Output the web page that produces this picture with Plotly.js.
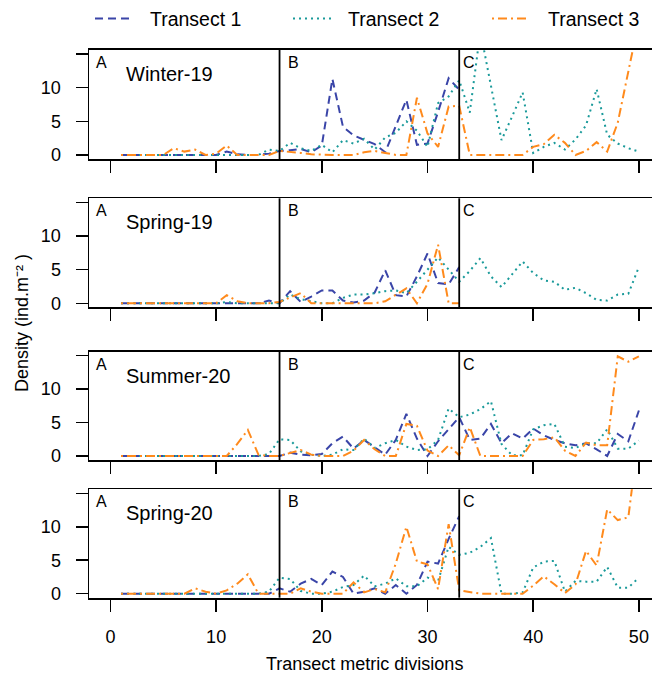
<!DOCTYPE html>
<html>
<head>
<meta charset="utf-8">
<script src="https://cdn.plot.ly/plotly-3.0.1.min.js"></script>
<style>html,body{margin:0;padding:0;background:#fff;}#chart{width:652px;height:675px;}</style>
</head>
<body>
<div id="chart"></div>
<script>
// ---- data ----
const divisions = [1,2,3,4,5,6,7,8,9,10,11,12,13,14,15,16,17,18,19,20,21,22,23,24,25,26,27,28,29,30,31,32,33,34,35,36,37,38,39,40,41,42,43,44,45,46,47,48,49,50];
const seriesNames = ["Transect 1","Transect 2","Transect 3"];
const seasons = ["Winter-19","Spring-19","Summer-20","Spring-20"];
const sectionLabels = ["A","B","C"];
const sectionBounds = [16,33];
const xTicks = [0,10,20,30,40,50];
const yLabelledTicks = [0,5,10];
const yUnlabelledTicks = [15];

const N = null;
const winter19_t1 = [0,0,0,0,0,0,0,0,0,0, 0.5,0.1,0,0,0.2, 0.6,0.7,0.9,0.4,1.4, 11.3,4.2,2.9,2.2,1.6, 0.4,4.2,8.2,1.5,1.7, 6.4,11.4,9.7, N,N,N,N,N,N,N,N,N,N,N,N,N,N,N,N,N];
const winter19_t2 = [0,0,0,0,0,0,0,0,0,0, 0,0,0,0,0.8, 0.6,1.8,1.0,0.6,1.5, 0.4,2.2,1.7,2.4,0.8, 2.6,3.3,5.0,3.6,1.2, 7.7,8.7,11.1,6.3,18.4, 10.3,2.2,5.7,9.3,0.3, 1.2,1.8,0.8,2.3,4.4, 9.8,3.0,1.7,1.0,0.5];
const winter19_t3 = [0,0,0,0,0,1.0,0.5,0.8,0,0.2, 1.4,0,0,0,0, 0.6,0.5,0.3,0.1,0, 0,0,0,0.4,0.6, 0.3,0,0,8.5,3.2, 1.2,7.2,7.3,0,0, 0,0,0,0,1.2, 1.6,3.0,1.8,0,0.6, 1.9,0.5,4.8,12.5,20];

const spring19_t1 = [0,0,0,0,0,0,0,0,0,0, 0,0,0,0,0.4, 0,1.8,0.2,1.0,1.9, 1.9,0.4,0.1,0.4,1.6, 4.9,1.2,1.0,4.0,7.4, 3.0,2.8,5.4, N,N,N,N,N,N,N,N,N,N,N,N,N,N,N,N,N];
const spring19_t2 = [0,0,0,0,0,0,0,0,0,0, 0.2,0,0,0,0, 0,1.3,0.6,0.3,0, 0,0.8,1.3,1.3,1.5, 1.8,1.9,1.5,3.2,5.0, 6.8,5.0,3.2,4.8,6.7, 4.0,2.4,4.3,6.2,4.5, 3.4,3.2,2.0,2.3,1.5, 0.5,0.4,1.3,1.4,5.4];
const spring19_t3 = [0,0,0,0,0,0,0,0,0,0, 1.2,0.3,0,0,0, 0.2,0.8,1.5,0,0, 0,0,0,0,0, 0.3,1.2,2.2,0,2.9, 8.7,0,0, N,N,N,N,N,N,N,N,N,N,N,N,N,N,N,N,N];

const summer20_t1 = [0,0,0,0,0,0,0,0,0,0, 0,0,0,0,0, 0,0.5,0.2,0.1,0.3, 1.9,2.9,1.1,2.4,1.3, 0.2,2.4,6.3,2.6,0, 2.2,4.0,5.8,2.4,2.6, 4.8,1.9,3.4,2.6,4.1, 3.1,2.4,1.9,1.6,1.9, 1.0,0,3.3,2.2,6.8];
const summer20_t2 = [0,0,0,0,0,0,0,0,0,0, 0,0,0,0,0.3, 2.5,2.4,0.7,0.2,0, 0.2,1.0,0.9,2.6,1.2, 1.9,2.4,1.4,0.9,1.0, 2.4,7.1,5.8,6.2,7.0, 8.2,1.8,0.1,0.1,4.0, 4.6,4.8,1.4,1.2,1.9, 1.9,4.0,1.1,1.1,2.3];
const summer20_t3 = [0,0,0,0,0,0,0,0,0,0, 0,1.8,3.9,0.2,0, 0,0.5,0.9,0.2,0, 0,0,0.8,2.4,1.0, 0,0,4.8,4.5,0.8, 0,1.6,0.1,4.3,0, 0,0,0,0,2.4, 2.5,2.8,0.8,0,2.0, 1.6,1.6,14.9,14.1,14.9];

const spring20_t1 = [0,0,0,0,0,0,0,0,0,0, 0,0,0,0,0, 0.8,0.3,1.5,2.2,1.3, 3.3,2.5,0,0.3,0.8, 0,1.3,0,1.3,4.8, 4.5,8.2,11.6, N,N,N,N,N,N,N,N,N,N,N,N,N,N,N,N,N];
const spring20_t2 = [0,0,0,0,0,0,0,0,0,0, 0,0,0,0,0.3, 2.4,2.2,0.4,0,0, 0.3,1.0,1.3,2.7,1.1, 1.5,2.3,1.1,1.1,2.4, 1.9,7.0,5.8,6.1,7.0, 8.3,0,0,0.2,3.9, 4.8,4.9,0.3,1.9,1.8, 1.8,4.0,0.9,0.9,2.4];
const spring20_t3 = [0,0,0,0,0,0,0,0.8,0.3,0, 0.5,1.5,2.9,0,0, 0,0,0.8,0.3,0, 0,0,1.7,0.2,0.7, 0.2,4.5,10.0,4.8,4.4, 0.7,10.4,0.5,0.3,0, 0,0,0,0,1.2, 2.6,1.4,0.1,1.4,6.4, 4.2,12.6,11.0,11.4,24];

const panelData = [
  [winter19_t1, winter19_t2, winter19_t3],
  [spring19_t1, spring19_t2, spring19_t3],
  [summer20_t1, summer20_t2, summer20_t3],
  [spring20_t1, spring20_t2, spring20_t3]
];

// ---- styling ----
const W = 652, H = 675;
const FONT = "Liberation Sans, Arial, Helvetica, sans-serif";
const colors = ["#3a45a8", "#1a9a9a", "#ff8a1c"];
const dashes = ["8px,5px", "2px,4px", "2px,4px,9px,4px"];
const panelTops = [50, 198.3, 351.7, 489.3];
const panelBottoms = [159, 307.3, 460, 597.7];
const plotLeft = 89.3;

const traces = [];
const layout = {
  width: W, height: H,
  margin: {l:0, r:0, t:0, b:0},
  paper_bgcolor: "#fff", plot_bgcolor: "#fff",
  font: {family: FONT, color: "#000", size: 18},
  showlegend: false,
  shapes: [], annotations: []
};

for (let p = 0; p < 4; p++) {
  const sfx = p === 0 ? "" : String(p + 1);
  const xa = "x" + sfx, ya = "y" + sfx;
  for (let s = 0; s < 3; s++) {
    traces.push({
      type: "scatter", mode: "lines",
      x: divisions, y: panelData[p][s],
      xaxis: xa, yaxis: ya,
      name: seriesNames[s], showlegend: false,
      connectgaps: false,
      line: {color: colors[s], width: 2, dash: dashes[s]},
      hoverinfo: "skip"
    });
  }
  const yDom = [(H - panelBottoms[p]) / H, (H - panelTops[p]) / H];
  layout["xaxis" + sfx] = {
    domain: [plotLeft / W, 1], range: [-2, 51.24], anchor: ya,
    tickvals: xTicks, ticktext: xTicks.map(String),
    ticks: "outside", ticklen: 12, tickwidth: 1.5, tickcolor: "#000",
    showline: true, linecolor: "#000", linewidth: 1.8, mirror: true,
    showgrid: false, zeroline: false,
    showticklabels: p === 3, ticklabelstandoff: 10,
    tickfont: {family: FONT, size: 18, color: "#000"}, fixedrange: true
  };
  layout["yaxis" + sfx] = {
    domain: yDom, range: [-0.6, 15.6], anchor: xa,
    tickvals: yLabelledTicks, ticktext: yLabelledTicks.map(String),
    ticks: "outside", ticklen: 12, tickwidth: 1.5, tickcolor: "#000",
    minor: {tickvals: yUnlabelledTicks, ticks: "outside", ticklen: 12, tickwidth: 1.5, tickcolor: "#000", showgrid: false},
    showline: true, linecolor: "#000", linewidth: 1.8, mirror: false,
    showgrid: false, zeroline: false, ticklabelstandoff: 11,
    tickfont: {family: FONT, size: 18, color: "#000"}, fixedrange: true
  };
  // section dividers
  sectionBounds.forEach(b => {
    layout.shapes.push({type: "line", xref: xa, yref: ya + " domain", x0: b, x1: b, y0: 0, y1: 1,
      line: {color: "#000", width: 1.8}});
  });
  // section letters
  const letterLeft = [95.7, 287.7, 462.7];
  sectionLabels.forEach((lab, i) => {
    layout.annotations.push({text: lab, xref: "paper", yref: "paper", showarrow: false,
      x: (letterLeft[i] - 2) / W, xanchor: "left",
      y: 1 - (panelTops[p] + 7.5 - 5.5) / H, yanchor: "top",
      font: {family: FONT, size: 16, color: "#000"}});
  });
  // season label
  layout.annotations.push({text: seasons[p], xref: "paper", yref: "paper", showarrow: false,
    x: (125.7 - 2) / W, xanchor: "left",
    y: 1 - (panelTops[p] + 17.5 - 6.5) / H, yanchor: "top",
    font: {family: FONT, size: 20, color: "#000"}});
}

// legend (key samples + labels at the top)
const legendLineX = [[95, 133], [293, 331], [492, 530]];
const legendTextX = [150, 348, 548];
seriesNames.forEach((nm, s) => {
  layout.shapes.push({type: "line", xref: "paper", yref: "paper",
    x0: legendLineX[s][0] / W, x1: legendLineX[s][1] / W, y0: 1 - 18.5 / H, y1: 1 - 18.5 / H,
    line: {color: colors[s], width: 2, dash: dashes[s]}});
  layout.annotations.push({text: nm, xref: "paper", yref: "paper", showarrow: false,
    x: (legendTextX[s] - 2) / W, xanchor: "left", y: 1 - 19 / H, yanchor: "middle",
    font: {family: FONT, size: 19.5, color: "#000"}});
});

layout.annotations.push({text: "Transect metric divisions", xref: "paper", yref: "paper", showarrow: false,
  x: 364.5 / W, xanchor: "center", y: 1 - 664 / H, yanchor: "middle",
  font: {family: FONT, size: 18, color: "#000"}});
layout.annotations.push({text: "Density (ind.m\u207B\u00B2 )", xref: "paper", yref: "paper", showarrow: false,
  x: 22 / W, xanchor: "center", y: 1 - 323 / H, yanchor: "middle", textangle: -90,
  font: {family: FONT, size: 18, color: "#000"}});

Plotly.newPlot("chart", traces, layout, {displayModeBar: false, staticPlot: true});
</script>
</body>
</html>
